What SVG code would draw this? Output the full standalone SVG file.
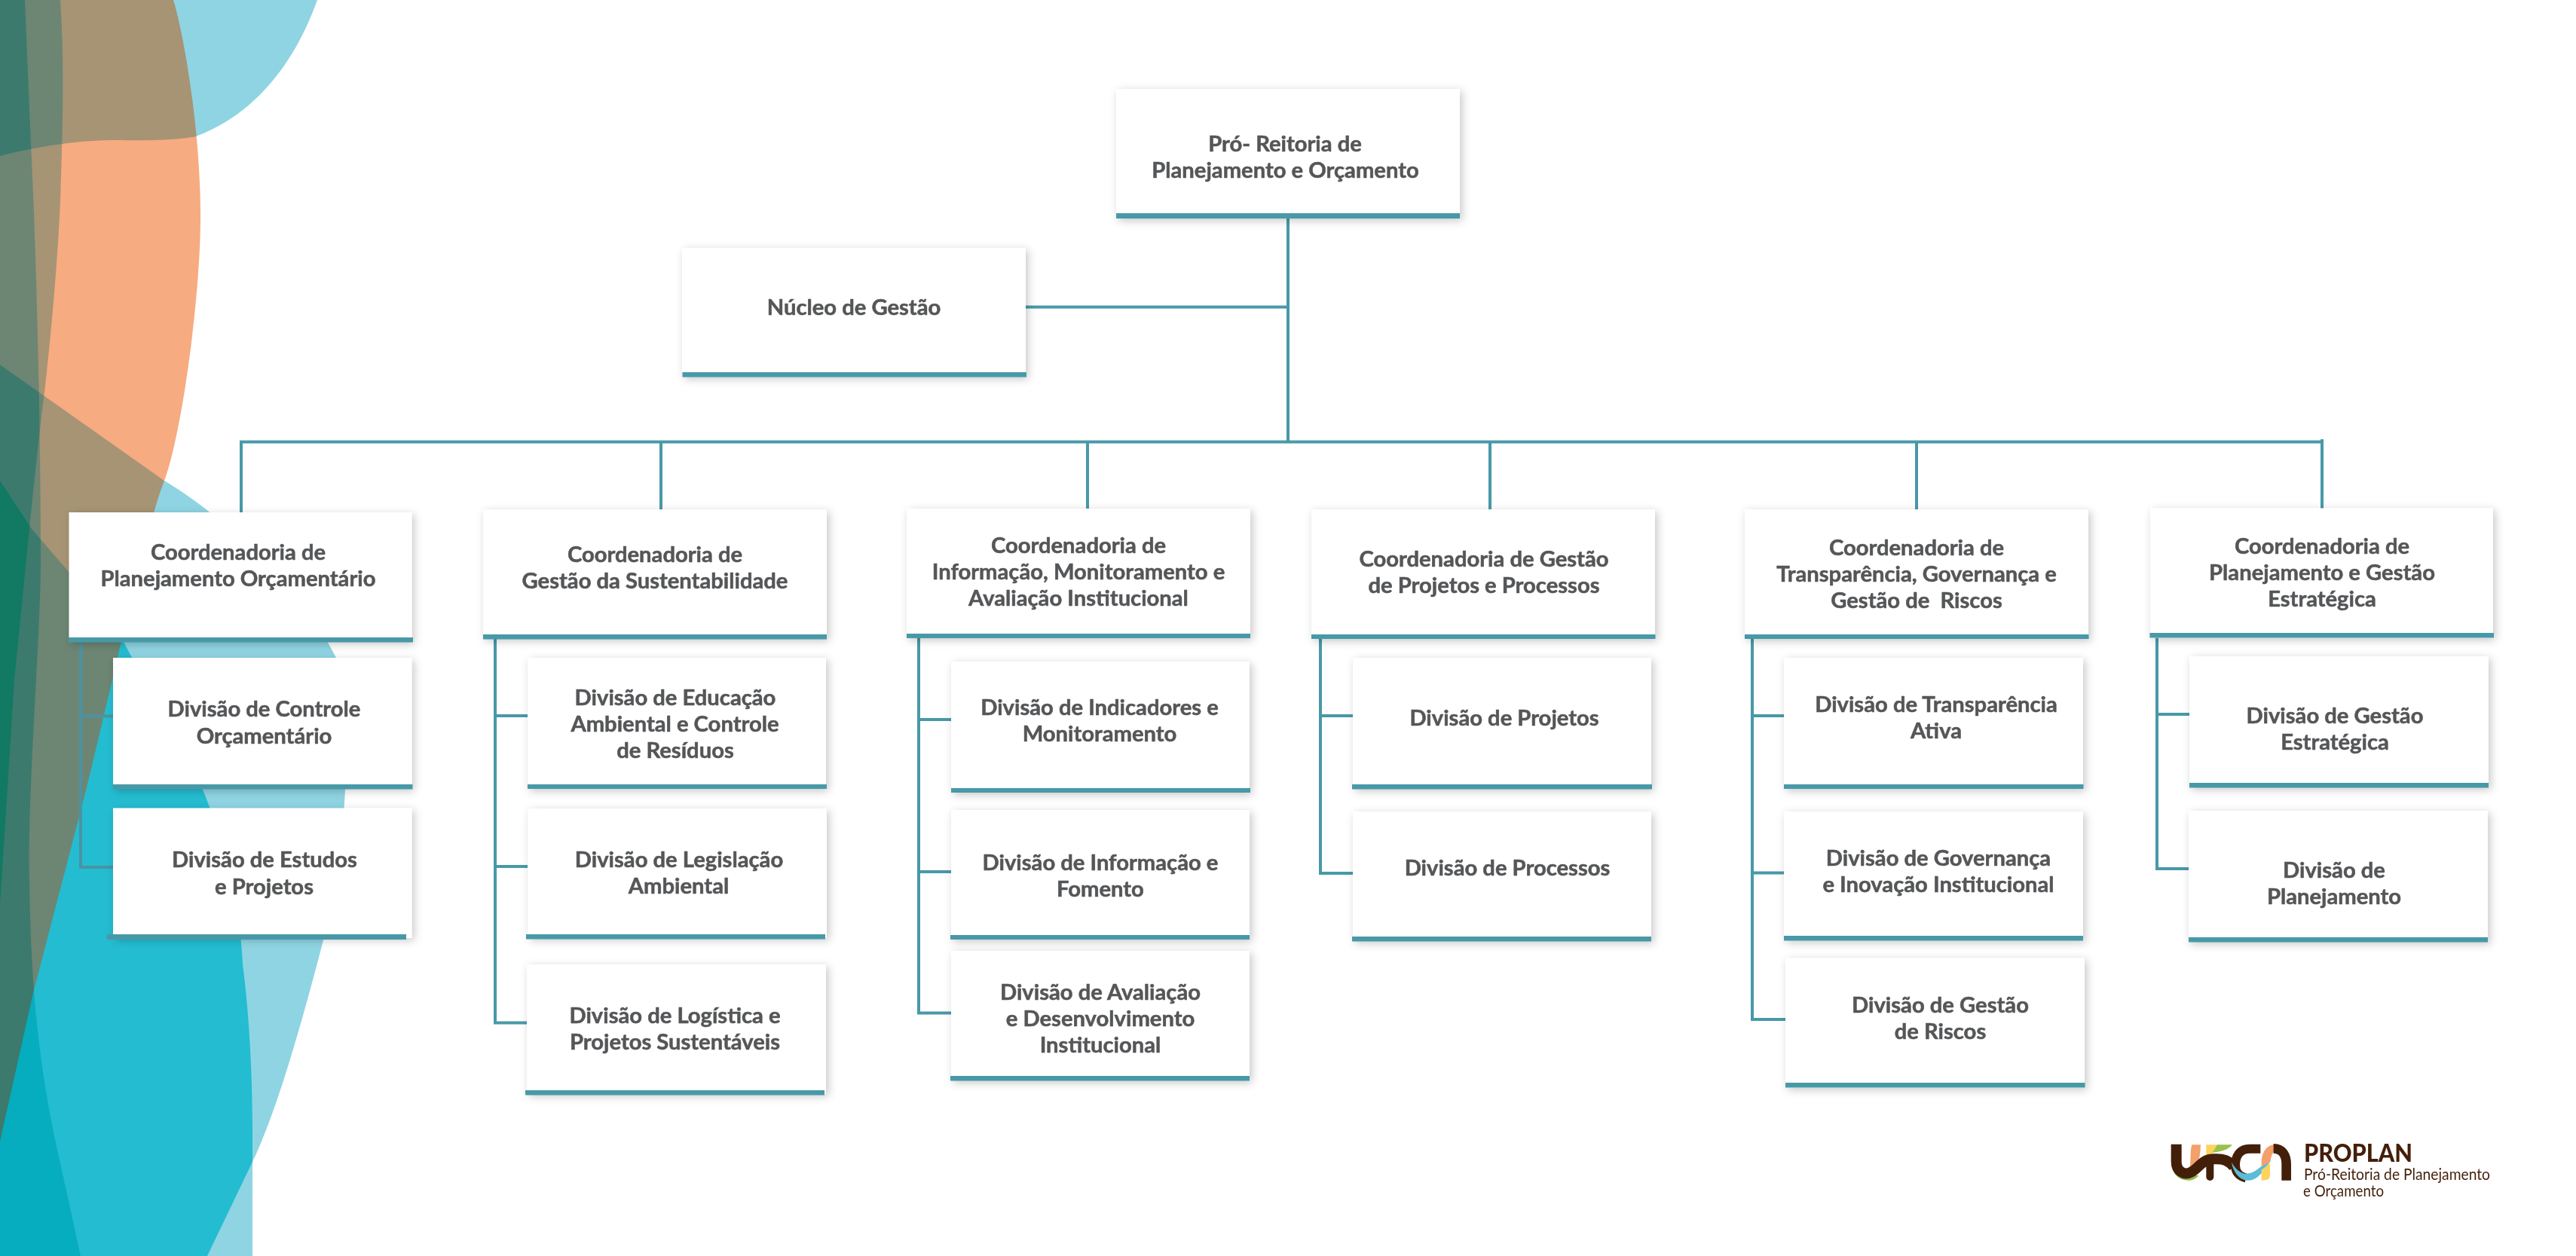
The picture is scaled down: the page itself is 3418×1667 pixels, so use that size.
<svg xmlns="http://www.w3.org/2000/svg" width="3418" height="1667" viewBox="0 0 3418 1667">
<style>
.box{fill:#fff;filter:url(#sh)}
.bar{fill:#4899a8}
.t{font-family:"Lato","Open Sans",sans-serif;font-weight:700;font-size:29.2px;fill:#555658;stroke:#555658;stroke-width:.55;text-anchor:middle}
.c{fill:none;stroke:#4899a8;stroke-width:4}
.l{fill:#333;mix-blend-mode:plus-lighter}
.lg{font-family:"Lato","Open Sans",sans-serif;fill:#431f0a}
</style>
<defs>
<filter id="sh" x="-10%" y="-20%" width="120%" height="140%"><feDropShadow dx="3" dy="3" stdDeviation="6" flood-color="#000" flood-opacity=".22"/></filter>
<filter id="palW" filterUnits="userSpaceOnUse" x="0" y="0" width="600" height="1667" color-interpolation-filters="sRGB"><feComponentTransfer>
<feFuncR type="table" tableValues="1 .561 .145 .024 .024 .024"/><feFuncG type="table" tableValues="1 .835 .741 .682 .682 .682"/><feFuncB type="table" tableValues="1 .894 .816 .749 .749 .749"/></feComponentTransfer></filter>
<filter id="palO" filterUnits="userSpaceOnUse" x="0" y="0" width="600" height="1667" color-interpolation-filters="sRGB"><feComponentTransfer>
<feFuncR type="table" tableValues=".969 .651 .424 .239 .071 .071"/><feFuncG type="table" tableValues=".671 .584 .529 .482 .478 .478"/><feFuncB type="table" tableValues=".502 .459 .451 .431 .392 .392"/></feComponentTransfer></filter>
<clipPath id="clipO"><path d="M230 0C240 30 266 160 266 287C266 400 240 580 218 638C190 710 145 930 105 1084L44 1318L0 1515V0Z"/></clipPath>
<g id="layers">
<rect x="0" y="0" width="600" height="1667" fill="#000"/>
<path class="l" d="M421 0C410 30 370 140 260 181C230 188 170 186 153 186C110 186 60 192 0 207V0Z"/>
<path class="l" d="M0 484L218 638C290 680 400 780 446 873C455 900 460 980 458 1048C455 1110 445 1190 430 1244C405 1340 370 1470 335 1542L275 1667H0Z"/>
<path class="l" d="M0 638L42 702L92 760L164 852L269 1048C295 1110 319 1200 322 1280C330 1340 335 1420 335 1500V1667H0Z"/>
<path class="l" d="M0 0H33L41 191C48 330 54 550 54 744C54 850 36 1050 39 1170C41 1280 46 1390 77 1530L107 1667H0Z"/>
<path class="l" d="M0 0H80C84 60 85 130 80 266C76 360 65 470 59 521C50 590 35 740 19 904L0 1201Z"/>
</g>
</defs>
<rect width="3418" height="1667" fill="#fff"/>
<g id="background">
<g filter="url(#palW)"><use href="#layers"/></g>
<g clip-path="url(#clipO)"><g filter="url(#palO)"><use href="#layers"/></g></g>
</g>
<g id="connectors">
<path class="c" d="M1709 290V586M1361 407.5H1709M318 586.5H3083"/>
<path class="c" d="M320 585V680M877 586V676M1443 586V675M1977 586V676M2543 586V676M3081 583V675"/>
<path class="c" style="stroke:#4a93a3" d="M107 852V1151H150M107 950.5H150"/>
<path class="c" d="M657 848V1357.5H699M657 950H700M657 1150H700"/>
<path class="c" d="M1219 847V1344.5H1262M1219 955H1262M1219 1157H1262"/>
<path class="c" d="M1752 848V1159H1795M1752 950H1795"/>
<path class="c" d="M2325 848V1353H2369M2325 950H2367M2325 1158.5H2367"/>
<path class="c" d="M2862 846V1153H2904M2862 948H2905"/>
</g>
<g id="n-proreitoria"><rect class="box" x="1481" y="118" width="456" height="172"/><rect class="bar" x="1481" y="283" width="456" height="7"/><text class="t" x="1705" y="200.5">Pró- Reitoria de</text><text class="t" x="1705.5" y="235.5">Planejamento e Orçamento</text></g>
<g id="n-nucleo"><rect class="box" x="905" y="329" width="456" height="171"/><rect class="bar" x="905.5" y="494" width="456.5" height="6.5"/><text class="t" x="1133" y="417.5">Núcleo de Gestão</text></g>
<g id="n-c1"><rect class="box" x="91.5" y="680" width="455" height="172"/><rect class="bar" x="91" y="846" width="457" height="6.5"/><text class="t" x="316" y="743">Coordenadoria de</text><text class="t" x="316" y="778">Planejamento Orçamentário</text></g>
<g id="n-d11"><rect class="box" x="150" y="873" width="396.5" height="174"/><rect class="bar" x="150" y="1041" width="397.5" height="6.5"/><text class="t" x="350.5" y="951">Divisão de Controle</text><text class="t" x="350.5" y="986.5">Orçamentário</text></g>
<g id="n-d12"><rect class="box" x="150" y="1072.5" width="396.5" height="172.5"/><rect class="bar" x="141.5" y="1240" width="397.5" height="7"/><text class="t" x="351" y="1151">Divisão de Estudos</text><text class="t" x="350.5" y="1186.5">e Projetos</text></g>
<g id="n-c2"><rect class="box" x="641" y="676" width="456" height="172"/><rect class="bar" x="641" y="842" width="456" height="6.5"/><text class="t" x="869" y="746">Coordenadoria de</text><text class="t" x="869" y="781">Gestão da Sustentabilidade</text></g>
<g id="n-d21"><rect class="box" x="700" y="873" width="396" height="174"/><rect class="bar" x="700" y="1041" width="397" height="6"/><text class="t" x="896" y="936">Divisão de Educação</text><text class="t" x="895.5" y="971">Ambiental e Controle</text><text class="t" x="896" y="1006">de Resíduos</text></g>
<g id="n-d22"><rect class="box" x="700.5" y="1073" width="396.5" height="172"/><rect class="bar" x="698" y="1240" width="397" height="6.5"/><text class="t" x="901" y="1151">Divisão de Legislação</text><text class="t" x="900.5" y="1186">Ambiental</text></g>
<g id="n-d23"><rect class="box" x="699" y="1280" width="397" height="172"/><rect class="bar" x="697" y="1447" width="397" height="6.5"/><text class="t" x="895.5" y="1358">Divisão de Logística e</text><text class="t" x="895.5" y="1393">Projetos Sustentáveis</text></g>
<g id="n-c3"><rect class="box" x="1203" y="675" width="456" height="172"/><rect class="bar" x="1203" y="841" width="456" height="6"/><text class="t" x="1431" y="734">Coordenadoria de</text><text class="t" x="1431" y="769">Informação, Monitoramento e</text><text class="t" x="1431" y="804">Avaliação Institucional</text></g>
<g id="n-d31"><rect class="box" x="1262" y="878" width="396" height="174"/><rect class="bar" x="1262" y="1046" width="397" height="6"/><text class="t" x="1459" y="949">Divisão de Indicadores e</text><text class="t" x="1459" y="984">Monitoramento</text></g>
<g id="n-d32"><rect class="box" x="1262" y="1075" width="396" height="172"/><rect class="bar" x="1261" y="1241" width="397" height="6"/><text class="t" x="1460" y="1155">Divisão de Informação e</text><text class="t" x="1460" y="1190">Fomento</text></g>
<g id="n-d33"><rect class="box" x="1262" y="1262" width="396" height="172"/><rect class="bar" x="1261" y="1428" width="397" height="6.5"/><text class="t" x="1460" y="1327">Divisão de Avaliação</text><text class="t" x="1460" y="1362">e Desenvolvimento</text><text class="t" x="1460" y="1397">Institucional</text></g>
<g id="n-c4"><rect class="box" x="1740" y="676" width="456" height="172"/><rect class="bar" x="1740" y="842" width="456.5" height="6"/><text class="t" x="1969" y="752">Coordenadoria de Gestão</text><text class="t" x="1969" y="787">de Projetos e Processos</text></g>
<g id="n-d41"><rect class="box" x="1795" y="873" width="396" height="174"/><rect class="bar" x="1794" y="1041" width="398" height="6.5"/><text class="t" x="1996" y="963">Divisão de Projetos</text></g>
<g id="n-d42"><rect class="box" x="1795" y="1077" width="396" height="172"/><rect class="bar" x="1794" y="1243" width="397" height="6.5"/><text class="t" x="2000" y="1162">Divisão de Processos</text></g>
<g id="n-c5"><rect class="box" x="2315" y="676" width="456" height="172"/><rect class="bar" x="2315" y="842" width="456.5" height="6"/><text class="t" x="2543" y="737">Coordenadoria de</text><text class="t" x="2543" y="772">Transparência, Governança e</text><text class="t" x="2543" y="807" xml:space="preserve">Gestão de  Riscos</text></g>
<g id="n-d51"><rect class="box" x="2367" y="873" width="397" height="174"/><rect class="bar" x="2367" y="1041" width="397.5" height="6"/><text class="t" x="2569" y="945">Divisão de Transparência</text><text class="t" x="2569" y="980">Ativa</text></g>
<g id="n-d52"><rect class="box" x="2367" y="1077" width="397" height="171"/><rect class="bar" x="2367" y="1242" width="397" height="6.5"/><text class="t" x="2572" y="1149">Divisão de Governança</text><text class="t" x="2572" y="1184">e Inovação Institucional</text></g>
<g id="n-d53"><rect class="box" x="2369" y="1271.5" width="397" height="172"/><rect class="bar" x="2369" y="1437" width="397.5" height="6.5"/><text class="t" x="2574.5" y="1344">Divisão de Gestão</text><text class="t" x="2574.5" y="1379">de Riscos</text></g>
<g id="n-c6"><rect class="box" x="2853" y="674.5" width="455" height="172"/><rect class="bar" x="2852.5" y="840" width="456.5" height="6.5"/><text class="t" x="3081" y="735">Coordenadoria de</text><text class="t" x="3081" y="770">Planejamento e Gestão</text><text class="t" x="3081" y="805">Estratégica</text></g>
<g id="n-d61"><rect class="box" x="2905" y="871" width="397" height="174"/><rect class="bar" x="2905" y="1039" width="397" height="6.5"/><text class="t" x="3098" y="960">Divisão de Gestão</text><text class="t" x="3098" y="995">Estratégica</text></g>
<g id="n-d62"><rect class="box" x="2904" y="1076" width="397" height="174"/><rect class="bar" x="2904" y="1244" width="397" height="6.5"/><text class="t" x="3097" y="1165">Divisão de</text><text class="t" x="3097" y="1200">Planejamento</text></g>
<g id="logo">
<g transform="translate(2840 1480) scale(.3333)">
<path fill="#8dbd4a" d="M124 190C126 240 160 262 195 260C212 259 225 250 232 240C200 240 150 240 124 190Z"/>
<path fill="#f4a06b" d="M205 118H240C238 165 235 205 190 236C205 200 195 150 205 118Z"/>
<path fill="#fcd35d" d="M262 118H305C300 140 280 160 262 172Z"/>
<path fill="#98c24d" d="M305 118H366C352 138 320 145 285 150C295 138 300 130 305 118Z"/>
<path fill="none" stroke="#431f0a" stroke-width="42" d="M143 116V185C143 225 175 240 200 228C235 212 240 178 290 175C330 172 350 180 372 205"/>
<path fill="none" stroke="#431f0a" stroke-width="30" stroke-linecap="round" d="M277 172V246"/>
<path fill="none" stroke="#431f0a" stroke-width="36" d="M478 134H435C395 134 378 165 378 200C378 228 395 245 420 250"/>
<path fill="#5bbcd6" d="M363 188C378 214 402 238 432 232C465 226 485 192 516 185C495 215 470 258 432 260C398 262 370 230 363 188Z"/>
<path fill="#f4a06b" d="M482 190C482 145 505 118 535 118C550 118 560 125 570 135C545 128 520 145 518 185L482 205Z"/>
<path fill="none" stroke="#431f0a" stroke-width="38" d="M530 133C568 133 581 165 581 195V260"/>
<path fill="#fcd35d" d="M482 218L516 192V240C516 255 505 260 482 260Z"/>
</g>
<text class="lg" x="3057" y="1542" font-size="33" font-weight="900" textLength="144" lengthAdjust="spacingAndGlyphs">PROPLAN</text>
<text class="lg" x="3057" y="1566" font-size="21" textLength="247" lengthAdjust="spacingAndGlyphs">Pró-Reitoria de Planejamento</text>
<text class="lg" x="3056" y="1588" font-size="21" textLength="107" lengthAdjust="spacingAndGlyphs">e Orçamento</text>
</g>
</svg>
